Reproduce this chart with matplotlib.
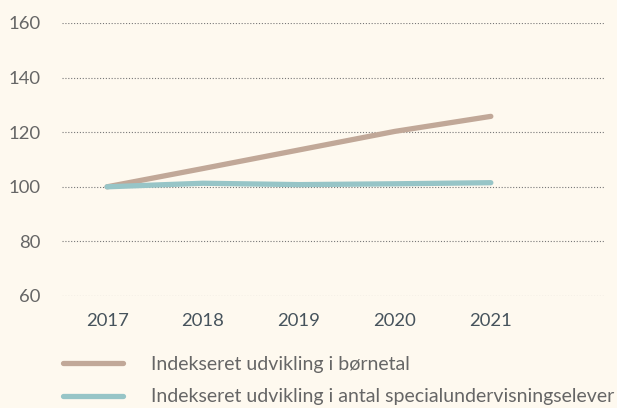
import matplotlib
matplotlib.use("Agg")
import matplotlib.pyplot as plt

years = [2017, 2018, 2019, 2020, 2021]
boernetal = [100, 106.7, 113.5, 120.3, 125.8]
special = [100, 101.3, 100.8, 101.1, 101.5]
yticks = [60, 80, 100, 120, 140, 160]
labels = ["Indekseret udvikling i børnetal",
          "Indekseret udvikling i antal specialundervisningselever"]

bg = "#FEF9EF"
plt.rcParams['font.family'] = ['Lato', 'DejaVu Sans']

W, H = 617, 408
fig = plt.figure(figsize=(W/100, H/100), dpi=100, facecolor=bg)
ax = fig.add_axes([62/W, 1-296/H, (605-62)/W, (296-23)/H], facecolor=bg)

l1, = ax.plot(years, boernetal, color="#C1A898", lw=3.8, solid_capstyle="round", zorder=3)
l2, = ax.plot(years, special, color="#97C5C7", lw=3.8, solid_capstyle="round", zorder=4)

ax.set_xlim(2016.53, 2022.19)
ax.set_ylim(60, 160)
ax.set_yticks(yticks)
ax.set_xticks(years)
ax.grid(axis="y", linestyle=(0, (1, 1.6)), color="#777777", lw=0.8)
for s in ax.spines.values():
    s.set_visible(False)
ax.tick_params(axis="both", length=0, labelsize=13.3)
ax.tick_params(axis="y", pad=15.5, colors="#666666")
ax.tick_params(axis="x", pad=12, colors="#46535c")

leg = fig.legend([l1, l2], labels, loc="upper left", bbox_to_anchor=(55/W, 1-348/H),
                 frameon=False, fontsize=14, handlelength=3.1, handletextpad=1.45,
                 labelspacing=0.8, labelcolor="#666666", borderaxespad=0)

fig.savefig("out.png", dpi=100, facecolor=bg)
